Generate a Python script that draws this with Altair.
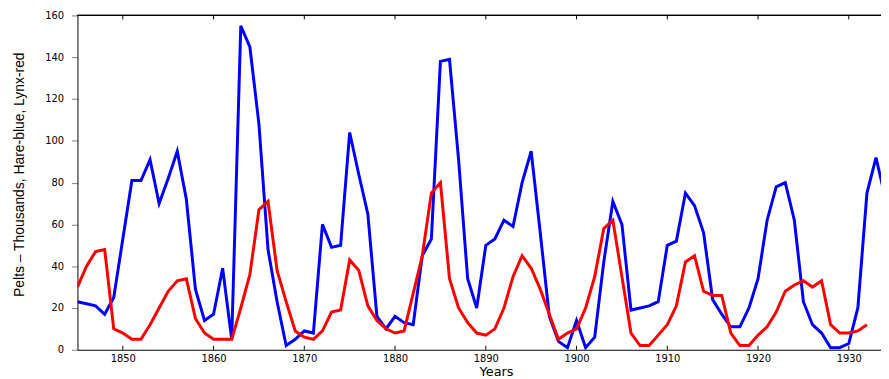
import altair as alt
import pandas as pd

hare_years = list(range(1845, 1935))
hare = [23, 22, 21, 17, 25, 53, 81, 81, 91, 70,
        82, 95, 72, 29, 14, 17, 39, 5, 155, 145,
        108, 48, 23, 2, 5, 9, 8, 60, 49, 50,
        104, 84, 65, 16, 10, 16, 13, 12, 45, 53,
        138, 139, 91, 34, 20, 50, 53, 62, 59, 80,
        95, 56, 16, 4, 1, 14, 1, 6, 42, 71,
        60, 19, 20, 21, 23, 50, 52, 75, 69, 56,
        24, 17, 11, 11, 20, 34, 62, 78, 80, 62,
        23, 12, 8, 1, 1, 3, 20, 75, 92, 73]

lynx_years = list(range(1845, 1933))
lynx = [30, 40, 47, 48, 10, 8, 5, 5, 12, 20,
        28, 33, 34, 15, 8, 5, 5, 5, 20, 36,
        67, 71, 38, 23, 9, 6, 5, 9, 18, 19,
        43, 38, 21, 14, 10, 8, 9, 27, 45, 75,
        80, 34, 20, 13, 8, 7, 10, 20, 35, 45,
        39, 29, 17, 5, 8, 10, 20, 35, 58, 62,
        35, 8, 2, 2, 7, 12, 21, 42, 45, 28,
        26, 26, 8, 2, 2, 7, 11, 18, 28, 31,
        33, 30, 33, 12, 8, 8, 9, 12]

tick_years = [1850, 1860, 1870, 1880, 1890, 1900, 1910, 1920, 1930]
y_ticks = [0, 20, 40, 60, 80, 100, 120, 140, 160]

W, H = 810, 337
x_domain = [1845, 1933.55]

hare_df = pd.DataFrame({"year": hare_years, "value": hare})
lynx_df = pd.DataFrame({"year": lynx_years, "value": lynx})
tick_df = pd.DataFrame({"year": tick_years})

xscale = alt.Scale(domain=x_domain, nice=False, zero=False)
yscale = alt.Scale(domain=[0, 160], nice=False)

x_axis = alt.Axis(values=tick_years, ticks=False, grid=False, format="d",
                  domainColor="black", domainWidth=1,
                  labelFont="DejaVu Sans", labelFontSize=10, labelColor="black",
                  labelPadding=4, labelFlush=False,
                  title="Years", titleFont="DejaVu Sans", titleFontSize=13,
                  titleFontWeight="normal", titleColor="black",
                  titleX=422, titleY=26, titleBaseline="alphabetic",
                  titleAlign="center")
y_axis = alt.Axis(values=y_ticks, grid=False, tickSize=6, tickColor="#808080",
                  domainColor="black", domainWidth=1,
                  labelFont="DejaVu Sans", labelFontSize=10, labelColor="black",
                  labelPadding=8,
                  title="Pelts \u2013 Thousands, Hare-blue, Lynx-red",
                  titleFont="Liberation Sans", titleFontSize=14,
                  titleFontWeight="normal", titleColor="black",
                  titleAngle=270, titleX=-58, titleY=160,
                  titleAlign="center", titleBaseline="middle")

hare_line = alt.Chart(hare_df).mark_line(color="#0000ff", strokeWidth=3, clip=True).encode(
    x=alt.X("year:Q", scale=xscale, axis=x_axis),
    y=alt.Y("value:Q", scale=yscale, axis=y_axis),
)

lynx_line = alt.Chart(lynx_df).mark_line(color="#ff0000", strokeWidth=3, clip=True).encode(
    x=alt.X("year:Q", scale=xscale, axis=x_axis),
    y=alt.Y("value:Q", scale=yscale, axis=y_axis),
)

top_border = alt.Chart(tick_df).mark_rule(color="black", strokeWidth=1).encode(
    x=alt.value(0), x2=alt.value(W), y=alt.value(0)
)

top_ticks = alt.Chart(tick_df).mark_rule(color="black", strokeWidth=1).encode(
    x=alt.X("year:Q", scale=xscale, axis=x_axis),
    y=alt.value(0), y2=alt.value(4)
)

bottom_ticks = alt.Chart(tick_df).mark_rule(color="black", strokeWidth=1).encode(
    x=alt.X("year:Q", scale=xscale, axis=x_axis),
    y=alt.value(H - 4), y2=alt.value(H)
)

chart = alt.layer(hare_line, lynx_line, top_border, top_ticks, bottom_ticks).properties(
    width=W, height=H,
    autosize=alt.AutoSizeParams(type="none"),
    padding={"left": 70, "top": 6, "right": 0, "bottom": 32},
).configure_view(stroke=None)

chart.save("out.html", embed_options={"renderer": "svg", "actions": False})
